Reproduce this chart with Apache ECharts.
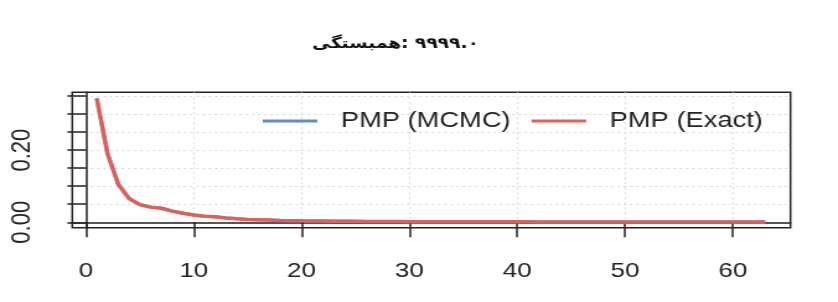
<!DOCTYPE html>
<html>
<head>
<meta charset="utf-8">
<script src="https://cdn.jsdelivr.net/npm/echarts@6/dist/echarts.min.js"></script>
<style>
  html, body { margin: 0; padding: 0; background: #fff; overflow: hidden; }
  /* the reference image is stretched horizontally, so the chart is drawn narrower and scaled */
  #chart { width: 676px; height: 302px; transform: scaleX(1.2396); transform-origin: 0 0; }
</style>
</head>
<body>
<div id="chart"></div>
<script>
// model index 1..63
const xValues = [
  1, 2, 3, 4, 5, 6, 7, 8, 9, 10, 11, 12, 13, 14, 15, 16, 17, 18, 19, 20, 21,
  22, 23, 24, 25, 26, 27, 28, 29, 30, 31, 32, 33, 34, 35, 36, 37, 38, 39, 40, 41, 42,
  43, 44, 45, 46, 47, 48, 49, 50, 51, 52, 53, 54, 55, 56, 57, 58, 59, 60, 61, 62, 63
]
const pmpExact = [
  0.344, 0.190, 0.105, 0.066, 0.049, 0.042, 0.039, 0.031, 0.025, 0.020, 0.017,
  0.0155, 0.012, 0.0095, 0.008, 0.0068, 0.006, 0.0052, 0.0046, 0.004, 0.0037,
  0.0034, 0.0031, 0.0028, 0.0026, 0.0024, 0.0022, 0.002, 0.0019, 0.0018, 0.0017,
  0.0016, 0.0016, 0.0015, 0.0015, 0.0014, 0.0014, 0.0013, 0.0013, 0.0012, 0.0012,
  0.0011, 0.0011, 0.0011, 0.001, 0.001, 0.001, 0.0009, 0.0009, 0.0009, 0.0008,
  0.0008, 0.0008, 0.0007, 0.0007, 0.0007, 0.0006, 0.0006, 0.0006, 0.0006, 0.0005,
  0.0005, 0.0005
]
const pmpMcmc = [
  0.343, 0.191, 0.105, 0.066, 0.049, 0.042, 0.039, 0.031, 0.025, 0.020, 0.017,
  0.0154, 0.012, 0.0096, 0.008, 0.0068, 0.006, 0.0052, 0.0046, 0.004, 0.0037,
  0.0034, 0.0031, 0.0028, 0.0026, 0.0024, 0.0022, 0.002, 0.0019, 0.0018, 0.0017,
  0.0016, 0.0016, 0.0015, 0.0015, 0.0014, 0.0014, 0.0013, 0.0013, 0.0012, 0.0012,
  0.0011, 0.0011, 0.0011, 0.001, 0.001, 0.001, 0.0009, 0.0009, 0.0009, 0.0008,
  0.0008, 0.0008, 0.0007, 0.0007, 0.0007, 0.0006, 0.0006, 0.0006, 0.0006, 0.0005,
  0.0005, 0.0005
]
const xTicks = [0, 10, 20, 30, 40, 50, 60]
const yTicks = [0, 0.05, 0.1, 0.15, 0.2, 0.25, 0.3, 0.35]
const yLabels = [0, 0.2]
const seriesNames = ['PMP (MCMC)', 'PMP (Exact)']
// LRM keeps the digits on the right of the word, as in the picture
const titleText = 'همبستگی:\u200E ۹۹۹۹.۰'

const chart = echarts.init(document.getElementById('chart'))

const toPairs = (vals) => xValues.map((x, i) => [x, vals[i]])

const gridLine = { show: true, lineStyle: { color: '#d9d9d9', type: [2, 3], width: 1 } }

const option = {
  backgroundColor: '#fff',
  animation: false,
  title: {
    text: titleText,
    left: 319,
    top: 37,
    padding: 0,
    textAlign: 'center',
    textStyle: {
      fontFamily: 'DejaVu Sans',
      fontWeight: 'bold',
      fontSize: 15,
      color: '#111'
    }
  },
  legend: {
    data: seriesNames,
    icon: 'rect',
    left: 212,
    top: 109,
    padding: 0,
    itemWidth: 44,
    itemHeight: 3,
    itemGap: 17,
    textStyle: {
      fontFamily: 'Liberation Sans',
      fontSize: 22,
      lineHeight: 24,
      color: '#222',
      padding: [0, 0, 0, 14]
    }
  },
  grid: {
    left: 58.3,
    right: 38.3,
    top: 92.3,
    bottom: 74.3,
    show: true,
    borderColor: '#222',
    borderWidth: 1.5
  },
  xAxis: {
    type: 'value',
    min: -1.27,
    max: 65.35,
    axisLine: { show: true, lineStyle: { color: '#222', width: 1.5 } },
    axisTick: { show: true, length: 15, customValues: xTicks, lineStyle: { color: '#222', width: 1.5 } },
    axisLabel: {
      customValues: xTicks,
      margin: 33,
      fontFamily: 'Liberation Sans',
      fontSize: 21,
      color: '#222'
    },
    splitLine: gridLine
  },
  yAxis: {
    type: 'value',
    min: -0.015,
    max: 0.3603,
    axisLine: { show: true, lineStyle: { color: '#222', width: 1.5 } },
    axisTick: { show: true, length: 15, customValues: yTicks, lineStyle: { color: '#222', width: 1.5 } },
    axisLabel: {
      customValues: yLabels,
      rotate: 90,
      margin: 29,
      fontFamily: 'Liberation Sans',
      fontSize: 22,
      color: '#222',
      formatter: (v) => v.toFixed(2)
    },
    splitLine: gridLine
  },
  series: [
    {
      name: seriesNames[0],
      type: 'line',
      symbol: 'none',
      color: '#5b8fc0',
      lineStyle: { width: 3 },
      data: toPairs(pmpMcmc)
    },
    {
      name: seriesNames[1],
      type: 'line',
      symbol: 'none',
      color: '#d9625d',
      lineStyle: { width: 3.5 },
      data: toPairs(pmpExact)
    }
  ]
}

chart.setOption(option)
</script>
</body>
</html>
